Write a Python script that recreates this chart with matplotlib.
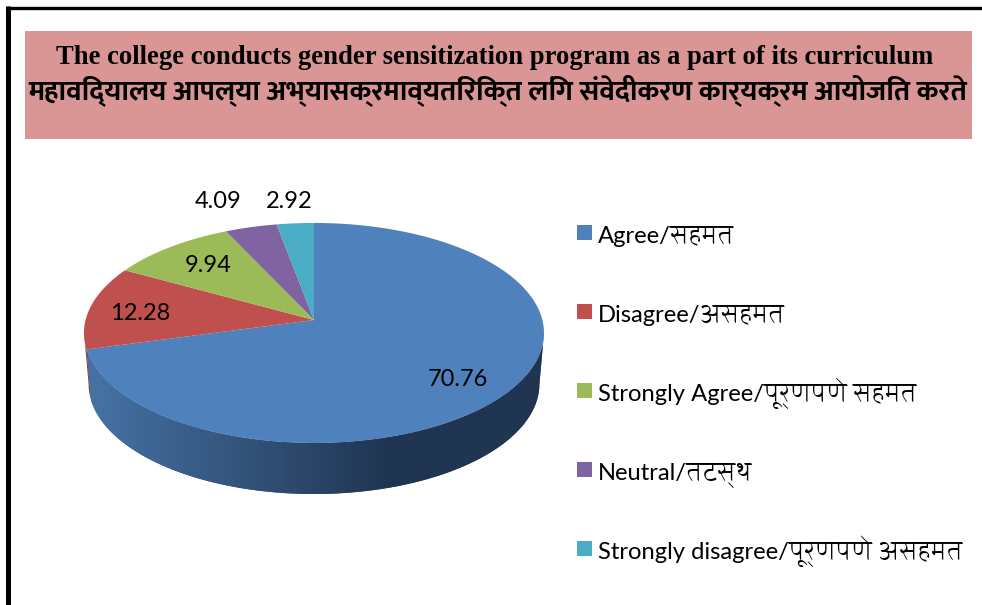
import numpy as np
import matplotlib
matplotlib.use("Agg")
import matplotlib.pyplot as plt
from matplotlib.colors import LinearSegmentedColormap
from matplotlib.patches import Polygon

labels = ["Agree/सहमत", "Disagree/असहमत", "Strongly Agree/पूर्णपणे सहमत", "Neutral/तटस्थ", "Strongly disagree/पूर्णपणे असहमत"]
values = [70.76, 12.28, 9.94, 4.09, 2.92]
value_labels = ["70.76", "12.28", "9.94", "4.09", "2.92"]
colors = ["#4F81BD", "#C0504D", "#9BBB59", "#8064A2", "#4BACC6"]
title_en = "The college conducts gender sensitization program as a part of its curriculum"
title_mr = "महाविद्यालय आपल्या अभ्यासक्रमाव्यतिरिक्त लिंग संवेदीकरण कार्यक्रम आयोजित करते"
label_x = [458, 140, 208, 218, 289]
label_y = [380, 313, 266, 202, 202]


def rim(theta, scale=1.0, dy=0.0):
    # perspective circle, theta clockwise from the top
    x, y = np.sin(theta), np.cos(theta)
    d = 1 + 0.118 * y
    return 314 + scale * 228.4 * x / d, 320 - 108.5 * y / d + dy


def wall(t0, t1):
    t = np.linspace(t0, t1, 80)
    x0, y0 = rim(t)
    x1, y1 = rim(t, 0.98, 51)
    return np.r_[x0, x1[::-1]], np.r_[y0, y1[::-1]]


fig = plt.figure(figsize=(9.82, 6.05), dpi=100)
ax = fig.add_axes([0, 0, 1, 1])
ax.axis("off")

# frame and title band
ax.plot([8.5, 8.5], [6, 605], color="black", lw=3.6, solid_capstyle="butt")
ax.plot([6, 982], [7.5, 7.5], color="black", lw=2.4, solid_capstyle="butt")
ax.add_patch(Polygon([(25, 31), (972, 31), (972, 139), (25, 139)], color="#D99694", lw=0))
ax.text(494.5, 57, title_en, family="Liberation Serif", weight="bold", fontsize=19.2, ha="center", va="center")
ax.text(498, 90, title_mr, family=["Mukta", "Noto Sans Devanagari"], weight="bold", fontsize=20.4, ha="center", va="center")

# side wall
edges = np.radians(np.cumsum([0] + values) * 360 / sum(values))
xw, yw = wall(edges[1], np.radians(263.2))
ax.fill(xw, yw, color="#8f3b39", lw=0)
xw, yw = wall(np.radians(96.8), edges[1])
poly = ax.fill(xw, yw, color="#2a4567", lw=0)[0]
cmap = LinearSegmentedColormap.from_list("w", ["#4673A6", "#34547C", "#1F3552", "#1F3552"])
img = ax.imshow(np.linspace(0, 1, 256)[None, :], extent=(85, 545, 500, 330), cmap=cmap, aspect="auto", zorder=2)
img.set_clip_path(poly)

# top slices
for i, v in enumerate(values):
    t = np.linspace(edges[i], edges[i + 1], 100)
    xs, ys = rim(t)
    ax.fill(np.r_[314, xs], np.r_[320, ys], color=colors[i], lw=0, zorder=3)

# data labels
for s, x, y in zip(value_labels, label_x, label_y):
    ax.text(x, y, s, family="Lato", fontsize=17, ha="center", va="center", zorder=4)

# legend
for i, s in enumerate(labels):
    y = 225 + i * 79
    ax.add_patch(Polygon([(577, y), (592, y), (592, y + 15), (577, y + 15)], color=colors[i], lw=0))
    ax.text(598, y + 18, s, family=["Lato", "Asar"], fontsize=17.1, ha="left", va="baseline")

ax.set_xlim(0, 982)
ax.set_ylim(605, 0)
fig.savefig("out.png", dpi=100)
